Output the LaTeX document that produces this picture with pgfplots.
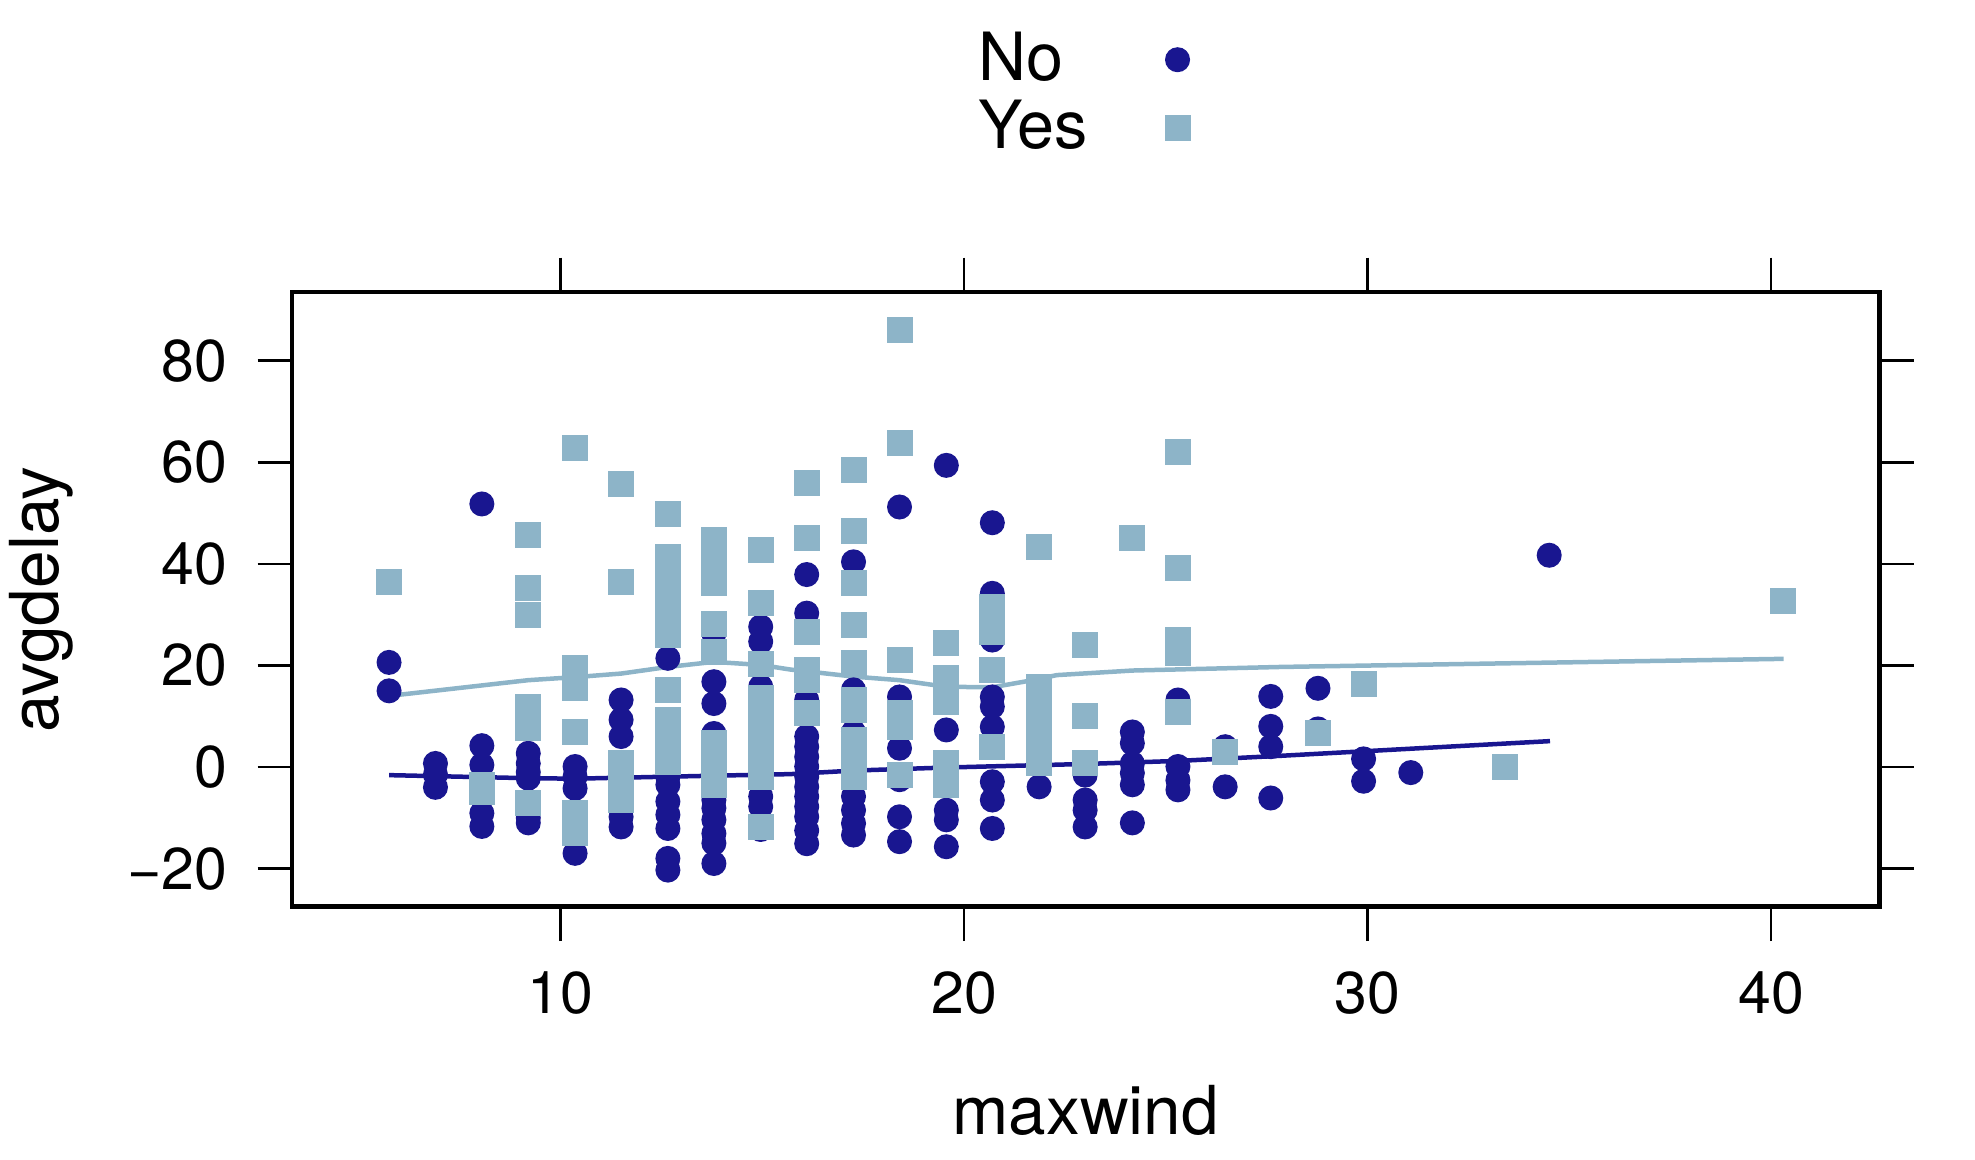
\documentclass[border=0pt]{standalone}
\usepackage{fontspec}
\setmainfont{TeX Gyre Heros}
\usepackage{pgfplots}
\pgfplotsset{compat=1.18}
\definecolor{nocol}{RGB}{25,22,144}
\definecolor{yescol}{RGB}{141,180,200}

\begin{document}
\begin{tikzpicture}
\begin{axis}[
    scale only axis,
    width=317.4pt, height=122.9pt,
    xmin=3.35, xmax=42.68,
    ymin=-27.5, ymax=93.5,
    xtick={10,20,30,40},
    xticklabels={10,20,30,40},
    ytick={-20,0,20,40,60,80},
    yticklabels={−20,0,20,40,60,80},
    tick align=outside,
    major tick length=6.9pt,
    tick style={black, line width=0.5pt},
    axis line style={black, line width=0.9pt},
    ticklabel style={font=\fontsize{11.8}{14}\selectfont},
    xticklabel style={yshift=-2.5pt},
    yticklabel style={xshift=-2.5pt},
    label style={font=\fontsize{13.5}{16}\selectfont},
    xlabel={maxwind},
    ylabel={avgdelay},
    xlabel style={yshift=-7.3pt},
    ylabel style={yshift=4pt},
    legend style={at={(0.5,1)}, anchor=south, yshift=23pt, xshift=-1.3pt, draw=none, fill=none,
        font=\fontsize{13.3}{13}\selectfont, row sep=-1.5pt, column sep=13.6pt},
    legend cell align=left,
    legend plot pos=right,
    clip=false,
]
\coordinate (bl) at (rel axis cs:0,0);
\coordinate (tr) at (rel axis cs:1,1);

% No
\addplot[only marks, mark=*, mark size=2.3pt, draw=nocol, fill=nocol] coordinates {
    (5.75,20.6) (5.75,15.0)
    (6.9,0.7) (6.9,-1.5) (6.9,-4.0)
    (8.05,51.8) (8.05,4.2) (8.05,0.4) (8.05,-6.0) (8.05,-9.1) (8.05,-11.7)
    (9.2,2.7) (9.2,0.7) (9.2,-1.0) (9.2,-2.2) (9.2,-10.0) (9.2,-11.0)
    (10.36,0.1) (10.36,-1.9) (10.36,-4.2) (10.36,-17.0)
    (11.5,13.2) (11.5,9.3) (11.5,6.0) (11.5,-9.8) (11.5,-11.8)
    (12.66,21.4) (12.66,-2.0) (12.66,-3.5) (12.66,-6.8) (12.66,-9.4) (12.66,-12.1) (12.66,-18.0) (12.66,-20.3)
    (13.8,44.7) (13.8,26.3) (13.8,16.8) (13.8,12.5) (13.8,6.6) (13.8,2.0) (13.8,-6.5) (13.8,-8.1) (13.8,-10.4) (13.8,-13.1) (13.8,-15.0) (13.8,-19.0)
    (14.96,27.6) (14.96,24.7) (14.96,15.8) (14.96,-5.8) (14.96,-7.8) (14.96,-12.3)
    (16.1,37.9) (16.1,30.3) (16.1,13.2) (16.1,6.0) (16.1,4.0) (16.1,2.0) (16.1,0.1) (16.1,-1.9) (16.1,-3.9) (16.1,-5.8) (16.1,-7.8) (16.1,-9.8) (16.1,-12.5) (16.1,-15.1)
    (17.26,40.4) (17.26,15.2) (17.26,6.9) (17.26,-5.8) (17.26,-8.5) (17.26,-11.1) (17.26,-13.4)
    (18.4,51.2) (18.4,13.8) (18.4,3.7) (18.4,-2.5) (18.4,-9.8) (18.4,-14.7)
    (19.56,59.4) (19.56,7.3) (19.56,-8.5) (19.56,-10.4) (19.56,-15.7)
    (20.7,48.1) (20.7,34.2) (20.7,25.0) (20.7,13.8) (20.7,11.9) (20.7,7.9) (20.7,-2.9) (20.7,-6.5) (20.7,-12.1)
    (21.86,-3.9)
    (23.0,-1.6) (23.0,-6.5) (23.0,-8.5) (23.0,-11.8)
    (24.17,6.9) (24.17,4.7) (24.17,0.7) (24.17,-1.2) (24.17,-3.5) (24.17,-11.0)
    (25.3,13.2) (25.3,0.1) (25.3,-2.6) (25.3,-4.5)
    (26.47,4.0) (26.47,-3.9)
    (27.6,13.9) (27.6,8.0) (27.6,4.0) (27.6,-6.1)
    (28.77,15.5) (28.77,7.5)
    (29.9,1.6) (29.9,-2.8)
    (31.07,-1.1)
    (34.5,41.7)
};
\addlegendentry{No}
\addplot[nocol, line width=0.9pt, forget plot] coordinates {
    (5.75,-1.6) (9.2,-2.2) (10.36,-2.3) (12.66,-1.9) (15.69,-1.4)
    (17.27,-0.7) (19.56,-0.1) (23.0,0.6) (25.3,1.2) (27.83,2.2) (34.52,5.1)
};

% Yes
\addplot[only marks, mark=square*, mark size=2.4pt, draw=yescol, fill=yescol] coordinates {
    (5.75,36.4)
    (8.05,-3.5) (8.05,-5.0)
    (9.2,45.6) (9.2,35.3) (9.2,29.9) (9.2,11.9) (9.2,9.8) (9.2,7.6) (9.2,-7.0)
    (10.36,62.9) (10.36,19.4) (10.36,15.5) (10.36,6.8) (10.36,-9.1) (10.36,-11.0) (10.36,-13.0)
    (11.5,55.7) (11.5,36.5) (11.5,0.7) (11.5,-1.9) (11.5,-4.5) (11.5,-6.5)
    (12.66,49.9) (12.66,41.4) (12.66,39.4) (12.66,36.2) (12.66,32.9) (12.66,30.6) (12.66,28.3) (12.66,26.0)
    (12.66,15.2) (12.66,9.3) (12.66,6.6) (12.66,4.0) (12.66,1.0)
    (13.8,44.7) (13.8,40.1) (13.8,36.2) (13.8,28.1) (13.8,22.7) (13.8,4.7) (13.8,2.0) (13.8,-0.6) (13.8,-3.5)
    (14.96,42.7) (14.96,32.2) (14.96,20.2) (14.96,13.5) (14.96,11.2) (14.96,8.6) (14.96,6.0) (14.96,3.3)
    (14.96,0.7) (14.96,-1.9) (14.96,-11.8)
    (16.1,56.0) (16.1,45.1) (16.1,26.6) (16.1,19.1) (16.1,17.1) (16.1,10.6)
    (17.26,58.5) (17.26,46.5) (17.26,36.2) (17.26,28.0) (17.26,20.5) (17.26,13.2) (17.26,11.2)
    (17.26,5.3) (17.26,2.7) (17.26,0.1) (17.26,-1.9)
    (18.4,86.0) (18.4,63.8) (18.4,21.1) (18.4,10.6) (18.4,7.9) (18.4,-1.6)
    (19.56,24.4) (19.56,17.5) (19.56,15.2) (19.56,12.9) (19.56,0.7) (19.56,-1.6) (19.56,-3.5)
    (20.7,31.6) (20.7,28.9) (20.7,26.6) (20.7,19.1) (20.7,4.0)
    (21.86,43.4) (21.86,15.8) (21.86,13.2) (21.86,10.6) (21.86,6.6) (21.86,4.0) (21.86,2.3) (21.86,0.7)
    (23.0,24.0) (23.0,10.0) (23.0,0.7)
    (24.17,45.1)
    (25.3,62.1) (25.3,39.1) (25.3,25.0) (25.3,22.4) (25.3,10.9)
    (26.47,3.0)
    (28.77,6.7)
    (29.9,16.3)
    (33.4,0.1)
    (40.3,32.6)
};
\addlegendentry{Yes}
\addplot[yescol, line width=0.9pt, forget plot] coordinates {
    (5.75,14.0) (9.2,17.1) (10.36,17.7) (11.5,18.4) (12.66,19.7) (13.8,20.7)
    (14.96,20.1) (15.69,19.2) (17.27,17.8) (18.4,17.1) (19.55,15.8) (20.7,15.7)
    (21.7,17.1) (22.3,18.1) (24.18,19.0) (27.83,19.7) (40.31,21.3)
};
\end{axis}
\pgfresetboundingbox
\path[use as bounding box] ([shift={(-58.44pt,-50.62pt)}]bl) rectangle ([shift={(19.14pt,58.44pt)}]tr);
\end{tikzpicture}
\end{document}
